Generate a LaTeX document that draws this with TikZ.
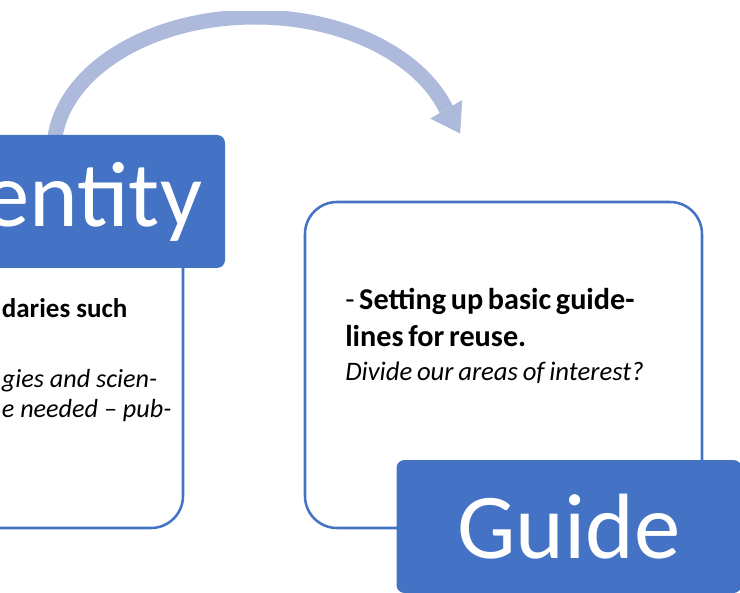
\documentclass[tikz,border=0pt]{standalone}
\usepackage{fontspec}
\setmainfont{Carlito}
\definecolor{tagblue}{RGB}{68,114,196}
\definecolor{loopblue}{RGB}{174,186,220}
\begin{document}
\begin{tikzpicture}[
	card/.style={draw=tagblue,line width=1.8pt,fill=white,rounded corners=0.8cm,minimum width=9.925cm,minimum height=8.15cm},
	tag/.style={fill=tagblue,text=white,rounded corners=0.2cm,minimum width=8.625cm,minimum height=3.325cm,inner sep=0pt,font=\fontsize{66}{66}\selectfont},
	boldline/.style={inner sep=0pt,anchor=base west,font=\fontsize{19.2}{24}\selectfont\bfseries},
	itline/.style={inner sep=0pt,anchor=base west,font=\fontsize{18.6}{21.3}\selectfont\itshape},
	looparrow/.style={draw=loopblue,line width=0.375cm}]
				\clip (0,0) rectangle (18.5,14.8);
				% the loop over the top, cut off at the upper edge
				\begin{scope}
				\clip (0,0) rectangle (18.5,14.5);
				\coordinate (arcfoot) at (1.35,11.035);
				\draw[looparrow] (arcfoot) arc[start angle=180,end angle=18,x radius=5.025cm,y radius=3.34cm] coordinate (headbase);
				\fill[loopblue,shift={(headbase)},rotate=-60] (0,0.4625) -- (0.7,0) -- (0,-0.4625) -- cycle;
				\end{scope}
				% left card
				\node[card] (leftcard) at (-0.3875,5.675) {};
				\node[boldline] (leftbold) at (0.04,6.85) {daries such};
				\node[itline] (leftitA) at (0.04,5.125) {gies and scien-};
				\node[itline] (leftitB) at (0.04,4.375) {e needed -- pub-};
				\node[tag,text width=7.475cm,align=right,inner xsep=0.575cm] (idtag) at (1.3125,9.7625) {entity};
				% right card
				\node[card] (rightcard) at (12.5875,5.675) {};
				\node[inner sep=0pt,anchor=base west,text width=8cm,align=left] (guidenote) at (8.625,7.05)
					{{\fontsize{21.5}{26.3}\selectfont -~\textbf{Setting up basic guide-}\\\textbf{lines for reuse.}\par}
					{\itshape\fontsize{19}{23.5}\selectfont Divide our areas of interest?\par}};
				\node[tag] (guidetag) at (14.225,1.6375) {Guide};
\end{tikzpicture}
\end{document}
